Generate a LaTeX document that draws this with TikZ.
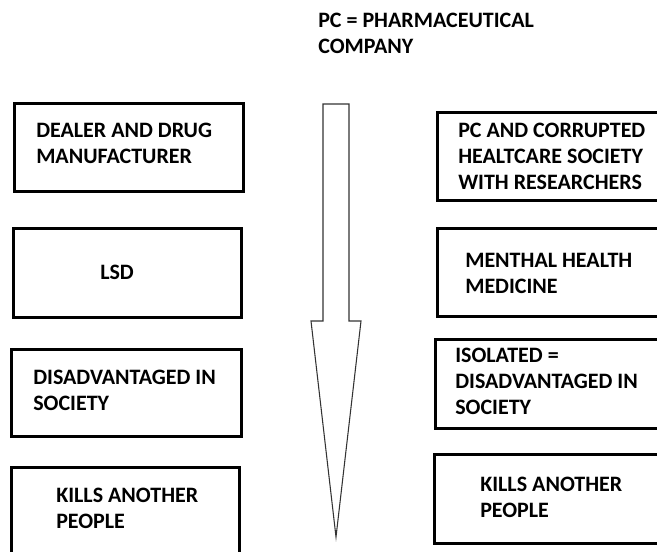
\documentclass[tikz,border=0pt]{standalone}
\usepackage{fontspec}
\setmainfont{Carlito}
\usetikzlibrary{positioning}

\begin{document}
\begin{tikzpicture}[x=0.75pt, y=-0.75pt,
		box/.style={draw=black, line width=2pt, inner sep=0pt, anchor=north west},
		lbl/.style={anchor=north west, inner sep=0pt, align=left, font=\bfseries\fontsize{16.5}{19.6}\selectfont}]
	\path[use as bounding box] (0,0) rectangle (657,551);
	\clip (0,0) rectangle (657,551);
	\fill[white] (0,0) rectangle (657,551);

	\node[lbl] (title) at (318,13) {PC = PHARMACEUTICAL\\COMPANY};

	% left column
	\node[box, minimum width=229*0.75pt, minimum height=88*0.75pt] (l1) at (13,102) {};
	\node[box, minimum width=228*0.75pt, minimum height=89*0.75pt] (l2) at (12,227) {};
	\node[box, minimum width=230*0.75pt, minimum height=87*0.75pt] (l3) at (10,348) {};
	\node[box, minimum width=228*0.75pt, minimum height=100*0.75pt] (l4) at (10,466) {};
		\node[lbl] (l1t) at (36,123) {DEALER AND DRUG\\MANUFACTURER};
		\node[lbl] (l2t) at (100,265) {LSD};
		\node[lbl] (l3t) at (33,370) {DISADVANTAGED IN\\SOCIETY};
		\node[lbl] (l4t) at (56,488) {KILLS ANOTHER\\PEOPLE};

	% right column
	\node[box, minimum width=260*0.75pt, minimum height=88*0.75pt] (r1) at (436,111) {};
	\node[box, minimum width=260*0.75pt, minimum height=88*0.75pt] (r2) at (436,227) {};
	\node[box, minimum width=260*0.75pt, minimum height=89*0.75pt] (r3) at (434,338) {};
	\node[box, minimum width=260*0.75pt, minimum height=89*0.75pt] (r4) at (433,453) {};
		\node[lbl] (r1t) at (458,123) {PC AND CORRUPTED\\HEALTCARE SOCIETY\\WITH RESEARCHERS};
		\node[lbl] (r2t) at (465,253) {MENTHAL HEALTH\\MEDICINE};
		\node[lbl] (r3t) at (455,348) {ISOLATED =\\DISADVANTAGED IN\\SOCIETY};
		\node[lbl] (r4t) at (480,477) {KILLS ANOTHER\\PEOPLE};

	% big arrow
	\draw[line width=0.8pt, draw=black!80, line join=miter]
		(323,104) -- (349,104) -- (349,321) -- (361,321) -- (336,537)
		-- (311,321) -- (323,321) -- cycle;
\end{tikzpicture}
\end{document}
